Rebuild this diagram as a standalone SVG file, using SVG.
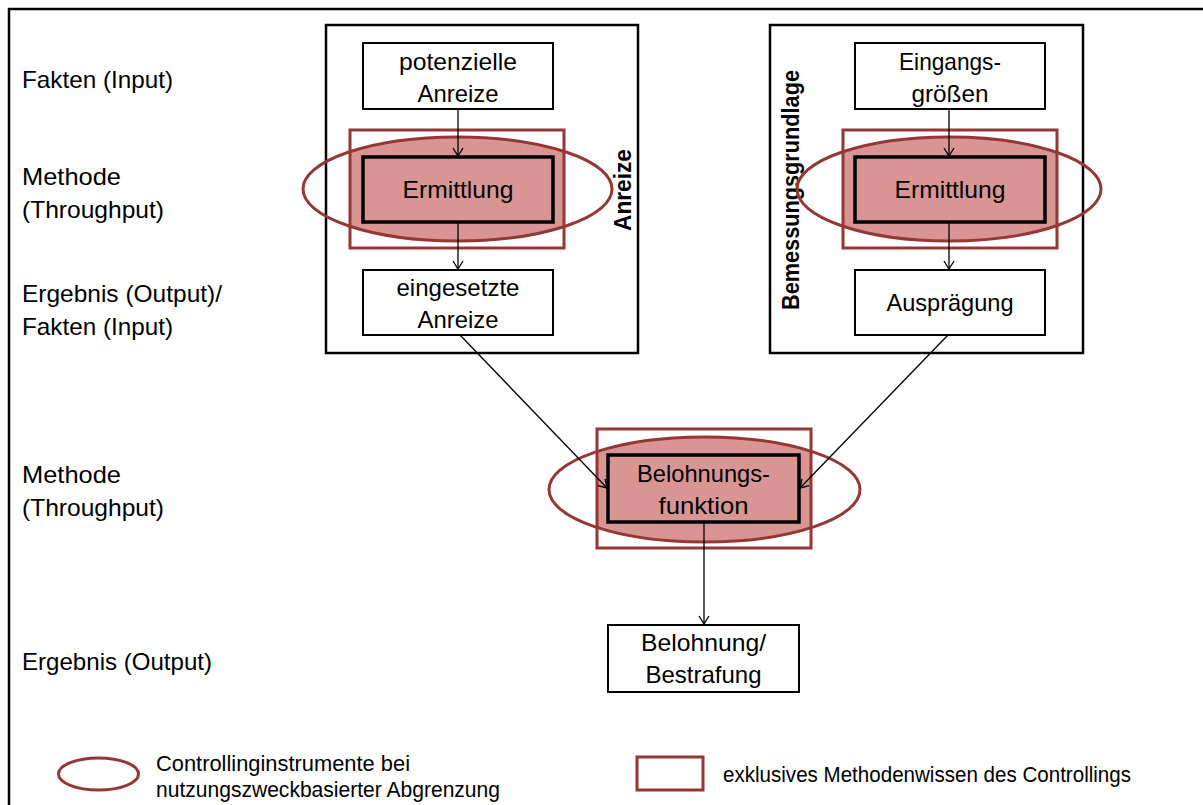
<svg xmlns="http://www.w3.org/2000/svg" width="1203" height="805" viewBox="0 0 1203 805">
<style>
.t{font-family:"Liberation Sans",Arial,sans-serif;font-size:24px;fill:#000}
.c{text-anchor:middle}
.b{font-family:"Liberation Sans",Arial,sans-serif;font-size:24px;font-weight:bold;fill:#000;text-anchor:middle}
.lg{font-family:"Liberation Sans",Arial,sans-serif;font-size:21.5px;fill:#000}
.box{fill:#fff;stroke:#000;stroke-width:2}
.grp{fill:none;stroke:#000;stroke-width:2.5}
.mbox{fill:#d99594;stroke:#000;stroke-width:3.5}
.rr{fill:none;stroke:#953735;stroke-width:3}
.el{fill:none;stroke:#953735;stroke-width:3}
.con{fill:none;stroke:#000;stroke-width:1.3;marker-end:url(#ah)}
</style>
<defs>
<marker id="ah" markerWidth="12" markerHeight="12" refX="10" refY="6" orient="auto" markerUnits="userSpaceOnUse">
<polyline points="2,1 10,6 2,11" fill="none" stroke="#000" stroke-width="1.3"/>
</marker>
<clipPath id="c1"><rect x="350" y="130" width="214" height="118"/></clipPath>
<clipPath id="c2"><rect x="843" y="130" width="214" height="118"/></clipPath>
<clipPath id="c3"><rect x="597" y="429" width="214" height="119"/></clipPath>
</defs>
<rect width="1203" height="805" fill="#fff"/>
<polyline points="9,805 9,9 1203,9" fill="none" stroke="#000" stroke-width="2.5"/>

<g id="labels">
<text class="t" x="22" y="88" textLength="151" lengthAdjust="spacingAndGlyphs">Fakten (Input)</text>
<text class="t" x="22" y="185" textLength="99" lengthAdjust="spacingAndGlyphs">Methode</text>
<text class="t" x="22" y="218" textLength="142" lengthAdjust="spacingAndGlyphs">(Throughput)</text>
<text class="t" x="22" y="302" textLength="200" lengthAdjust="spacingAndGlyphs">Ergebnis (Output)/</text>
<text class="t" x="22" y="335" textLength="151" lengthAdjust="spacingAndGlyphs">Fakten (Input)</text>
<text class="t" x="22" y="483" textLength="99" lengthAdjust="spacingAndGlyphs">Methode</text>
<text class="t" x="22" y="516" textLength="142" lengthAdjust="spacingAndGlyphs">(Throughput)</text>
<text class="t" x="22" y="670" textLength="190" lengthAdjust="spacingAndGlyphs">Ergebnis (Output)</text>
</g>

<g id="group-anreize">
<rect class="grp" x="326" y="25" width="312" height="328"/>
<text class="b" transform="translate(631,190) rotate(-90)" textLength="82" lengthAdjust="spacingAndGlyphs">Anreize</text>
</g>
<g id="group-bemessung">
<rect class="grp" x="770" y="25" width="313" height="328"/>
<text class="b" transform="translate(799,190) rotate(-90)" textLength="240" lengthAdjust="spacingAndGlyphs">Bemessungsgrundlage</text>
</g>

<g id="hl-left">
<ellipse cx="457.5" cy="189" rx="154.5" ry="52" fill="#d99594" clip-path="url(#c1)"/>
<rect class="rr" x="350" y="130" width="214" height="118"/>
<ellipse class="el" cx="457.5" cy="189" rx="154.5" ry="52"/>
</g>
<g id="hl-right">
<ellipse cx="949" cy="189" rx="152" ry="52" fill="#d99594" clip-path="url(#c2)"/>
<rect class="rr" x="843" y="130" width="214" height="118"/>
<ellipse class="el" cx="949" cy="189" rx="152" ry="52"/>
</g>
<g id="hl-mid">
<ellipse cx="704.5" cy="489.5" rx="155.5" ry="52.5" fill="#d99594" clip-path="url(#c3)"/>
<rect class="rr" x="597" y="429" width="214" height="119"/>
<ellipse class="el" cx="704.5" cy="489.5" rx="155.5" ry="52.5"/>
</g>

<g id="n-potenzielle">
<rect class="box" x="363" y="43" width="190" height="66"/>
<text class="t c" x="458" y="70" textLength="118" lengthAdjust="spacingAndGlyphs">potenzielle</text>
<text class="t c" x="458" y="102" textLength="81" lengthAdjust="spacingAndGlyphs">Anreize</text>
</g>
<g id="n-ermittlung1">
<rect class="mbox" x="363" y="157" width="190" height="65"/>
<text class="t c" x="458" y="198" textLength="111" lengthAdjust="spacingAndGlyphs">Ermittlung</text>
</g>
<g id="n-eingesetzte">
<rect class="box" x="363" y="270" width="190" height="65"/>
<text class="t c" x="458" y="296" textLength="123" lengthAdjust="spacingAndGlyphs">eingesetzte</text>
<text class="t c" x="458" y="328" textLength="81" lengthAdjust="spacingAndGlyphs">Anreize</text>
</g>
<g id="n-eingangs">
<rect class="box" x="855" y="43" width="190" height="66"/>
<text class="t c" x="950" y="70" textLength="102" lengthAdjust="spacingAndGlyphs">Eingangs-</text>
<text class="t c" x="950" y="102" textLength="77" lengthAdjust="spacingAndGlyphs">größen</text>
</g>
<g id="n-ermittlung2">
<rect class="mbox" x="855" y="157" width="190" height="65"/>
<text class="t c" x="950" y="198" textLength="111" lengthAdjust="spacingAndGlyphs">Ermittlung</text>
</g>
<g id="n-auspraegung">
<rect class="box" x="855" y="270" width="190" height="65"/>
<text class="t c" x="950" y="311" textLength="127" lengthAdjust="spacingAndGlyphs">Ausprägung</text>
</g>
<g id="n-belohnungsfunktion">
<rect class="mbox" x="608" y="455" width="191" height="67"/>
<text class="t c" x="703.5" y="482" textLength="133" lengthAdjust="spacingAndGlyphs">Belohnungs-</text>
<text class="t c" x="703.5" y="514" textLength="90" lengthAdjust="spacingAndGlyphs">funktion</text>
</g>
<g id="n-belohnung">
<rect class="box" x="608" y="625" width="191" height="67"/>
<text class="t c" x="703.5" y="651" textLength="125" lengthAdjust="spacingAndGlyphs">Belohnung/</text>
<text class="t c" x="703.5" y="683" textLength="116" lengthAdjust="spacingAndGlyphs">Bestrafung</text>
</g>

<g id="connectors">
<line class="con" x1="458" y1="109" x2="458" y2="156"/>
<line class="con" x1="458" y1="222" x2="458" y2="269"/>
<line class="con" x1="949" y1="109" x2="949" y2="156"/>
<line class="con" x1="949" y1="222" x2="949" y2="269"/>
<line class="con" x1="460" y1="335" x2="607" y2="488"/>
<line class="con" x1="948" y1="335" x2="800" y2="488"/>
<line class="con" x1="704" y1="522" x2="704" y2="624"/>
</g>

<g id="legend">
<ellipse cx="98.5" cy="774" rx="40" ry="16" fill="none" stroke="#953735" stroke-width="3"/>
<text class="lg" x="156" y="771" textLength="254" lengthAdjust="spacingAndGlyphs">Controllinginstrumente bei</text>
<text class="lg" x="156" y="797" textLength="344" lengthAdjust="spacingAndGlyphs">nutzungszweckbasierter Abgrenzung</text>
<rect x="637" y="757" width="66" height="33" fill="none" stroke="#953735" stroke-width="3"/>
<text class="lg" x="723" y="782" textLength="408" lengthAdjust="spacingAndGlyphs">exklusives Methodenwissen des Controllings</text>
</g>
</svg>
